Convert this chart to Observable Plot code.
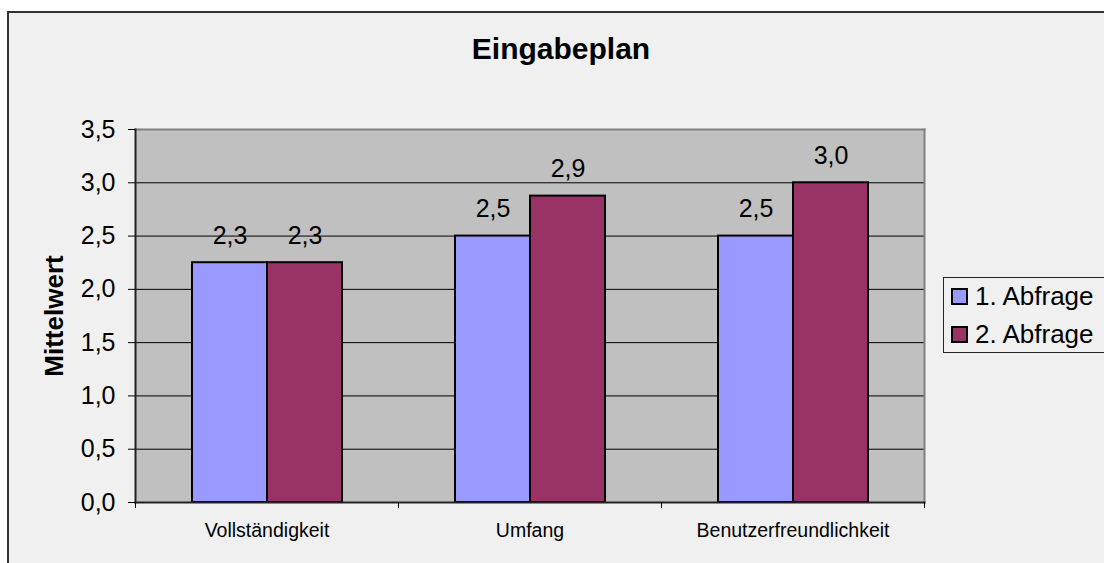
<!DOCTYPE html>
<html>
<head>
<meta charset="utf-8">
<script src="https://cdn.jsdelivr.net/npm/d3@7"></script>
<script src="https://cdn.jsdelivr.net/npm/@observablehq/plot@0.6"></script>
<style>
  html, body { margin: 0; padding: 0; background: #ffffff; }
  #chart { position: relative; width: 1104px; height: 563px; overflow: hidden; font-family: "Liberation Sans", Arial, sans-serif; }
  #area { position: absolute; left: 7px; top: 11px; width: 1130px; height: 600px; border: 2px solid #333333; background: #f0f0f0; }
  #plot { position: absolute; left: 0; top: 0; }
  #title { position: absolute; left: 0; top: 34px; width: 1122px; text-align: center; font-size: 30px; line-height: 1; font-weight: bold; color: #000; }
  #legend { position: absolute; left: 943px; top: 277px; width: 200px; height: 76px; border: 1px solid #222; box-sizing: border-box; }
  .lrow { position: absolute; left: 0; height: 26px; font-size: 26px; line-height: 1; color: #000; white-space: nowrap; }
  .sw { position: absolute; left: 7px; top: 5px; width: 17px; height: 17px; border: 2px solid #000; box-sizing: border-box; }
  .lt { position: absolute; left: 31px; top: 0; }
</style>
</head>
<body>
<div id="chart">
  <div id="area"></div>
  <div id="plot"></div>
  <div id="title"></div>
  <div id="legend"></div>
</div>
<script>
const titleText = "Eingabeplan";
const yLabel = "Mittelwert";
const categories = ["Vollständigkeit", "Umfang", "Benutzerfreundlichkeit"];
const series = ["1. Abfrage", "2. Abfrage"];
const values1 = [2.25, 2.5, 2.5];
const values2 = [2.25, 2.875, 3.0];
const yTicks = [0, 0.5, 1, 1.5, 2, 2.5, 3, 3.5];
const colors = ["#9999FF", "#993366"];

const data = categories.flatMap((c, i) => [
  {category: c, series: series[0], value: values1[i]},
  {category: c, series: series[1], value: values2[i]}
]);

const fmt = v => v.toFixed(1).replace(".", ",");

const W = 1104, H = 563, mL = 135, mR = 180, mT = 129, mB = 61;
const band = (W - mL - mR) / categories.length;

const plot = Plot.plot({
  width: W,
  height: H,
  marginLeft: mL,
  marginRight: mR,
  marginTop: mT,
  marginBottom: mB,
  style: {background: "transparent", fontFamily: "'Liberation Sans', Arial, sans-serif", color: "#000", overflow: "visible"},
  fx: {domain: categories, padding: 0},
  x: {domain: series, paddingInner: 0, paddingOuter: 0.74, axis: null},
  y: {domain: [0, 3.5]},
  color: {domain: series, range: colors},
  marks: [
    Plot.frame({facet: "super", fill: "#C0C0C0", stroke: null}),
    Plot.ruleY(yTicks.slice(1, -1), {stroke: "#000", strokeWidth: 1}),
    Plot.frame({facet: "super", anchor: "top", stroke: "#808080", strokeWidth: 2}),
    Plot.frame({facet: "super", anchor: "right", stroke: "#808080", strokeWidth: 2}),
    Plot.barY(data, {fx: "category", x: "series", y: "value", fill: "series", stroke: "#000", strokeWidth: 2}),
    Plot.text(data, {fx: "category", x: "series", y: "value", text: d => fmt(d.value), lineAnchor: "bottom", dy: -19, fontSize: 25, fill: "#000"}),
    Plot.frame({facet: "super", anchor: "left", stroke: "#222", strokeWidth: 2}),
    Plot.frame({facet: "super", anchor: "bottom", stroke: "#222", strokeWidth: 2}),
    Plot.axisY({ticks: yTicks, tickFormat: fmt, tickSize: 7, tickPadding: 13, fontSize: 25, label: null, stroke: "#000"}),
    Plot.axisFx({anchor: "bottom", tickSize: 0, tickPadding: 21, fontSize: 19.5, label: null}),
    Plot.axisFx({anchor: "bottom", tickSize: 6, tickFormat: () => "", dx: band / 2, label: null, stroke: "#000"}),
    Plot.axisFx({anchor: "bottom", tickSize: 6, tickFormat: () => "", dx: -band / 2, label: null, stroke: "#000"}),
    Plot.text([yLabel], {facet: "super", frameAnchor: "left", rotate: -90, dx: -73, textAnchor: "middle", lineAnchor: "bottom", fontSize: 26, fontWeight: "bold", fill: "#000"})
  ]
});
document.getElementById("plot").appendChild(plot);

document.getElementById("title").textContent = titleText;

const legend = document.getElementById("legend");
series.forEach((s, i) => {
  const row = document.createElement("div");
  row.className = "lrow";
  row.style.top = (5 + i * 38) + "px";
  const sw = document.createElement("div");
  sw.className = "sw";
  sw.style.background = colors[i];
  const t = document.createElement("div");
  t.className = "lt";
  t.textContent = s;
  row.appendChild(sw);
  row.appendChild(t);
  legend.appendChild(row);
});
</script>
</body>
</html>
